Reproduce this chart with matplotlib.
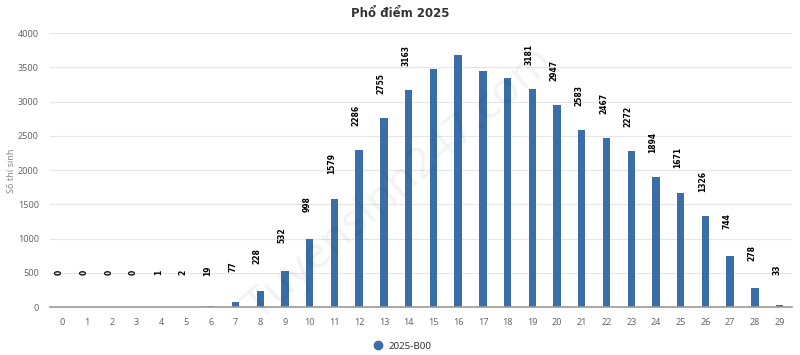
import matplotlib.pyplot as plt
from matplotlib.lines import Line2D

plt.rcParams['font.family'] = ['Noto Sans', 'DejaVu Sans']

# score buckets and number of candidates (2025, block B00)
scores = list(range(30))
counts = [0, 0, 0, 0, 1, 2, 19, 77, 228, 532, 998, 1579, 2286, 2755, 3163,
          3473, 3672, 3449, 3341, 3181, 2947, 2583, 2467, 2272, 1894, 1671,
          1326, 744, 278, 33]
series_name = "2025-B00"
title = "Phổ điểm 2025"
y_label = "Số thí sinh"
y_ticks = [0, 500, 1000, 1500, 2000, 2500, 3000, 3500, 4000]

bar_color = "#3a6ea8"
grey = "#666666"

fig = plt.figure(figsize=(8, 3.55), dpi=100)
ax = fig.add_axes([0.0625, 0.135, 0.9275, 0.772])

# faint watermark
fig.text(0.5, 0.48, "Tuyensinh247.com", fontsize=32, color="#000000", alpha=0.05,
         rotation=41, ha="center", va="center", zorder=0)

ax.bar(scores, counts, width=0.3, color=bar_color, zorder=3)

# vertical value labels above the bars (hidden when they would leave the plot)
for x, v in zip(scores, counts):
    if v > 3300:
        continue
    ax.annotate(str(v), (x, v), xytext=(-3, 35), textcoords="offset pixels",
                rotation=90, ha="center", va="center", fontsize=5.5,
                fontweight="bold", family="DejaVu Sans", color="black", zorder=4)

ax.set_xlim(-0.5, 29.5)
ax.set_ylim(0, 4000)
ax.set_xticks(scores)
ax.set_yticks(y_ticks)
ax.tick_params(axis="both", length=0, labelsize=6.5, colors=grey)
ax.tick_params(axis="x", pad=8)
ax.tick_params(axis="y", pad=8)
ax.grid(axis="y", color="#e6e6e6", linewidth=0.8, zorder=0)
for s in ["top", "right", "left"]:
    ax.spines[s].set_visible(False)
ax.spines["bottom"].set_color("#999999")
ax.spines["bottom"].set_linewidth(1.2)
ax.spines["bottom"].set_zorder(5)

fig.text(0.015, 0.52, y_label, rotation=90, ha="center", va="center",
         fontsize=6.5, color="#888888")
fig.text(0.5, 0.962, title, ha="center", va="center", fontsize=8.5,
         fontweight="bold", family="DejaVu Sans", color="#333333")

handle = Line2D([], [], marker="o", linestyle="none", markersize=6,
                markerfacecolor=bar_color, markeredgecolor=bar_color)
fig.legend([handle], [series_name], loc="center", bbox_to_anchor=(0.5, 0.025),
           frameon=False, fontsize=7, handletextpad=0.1, labelcolor="#333333")

fig.savefig("out.png", dpi=100)
